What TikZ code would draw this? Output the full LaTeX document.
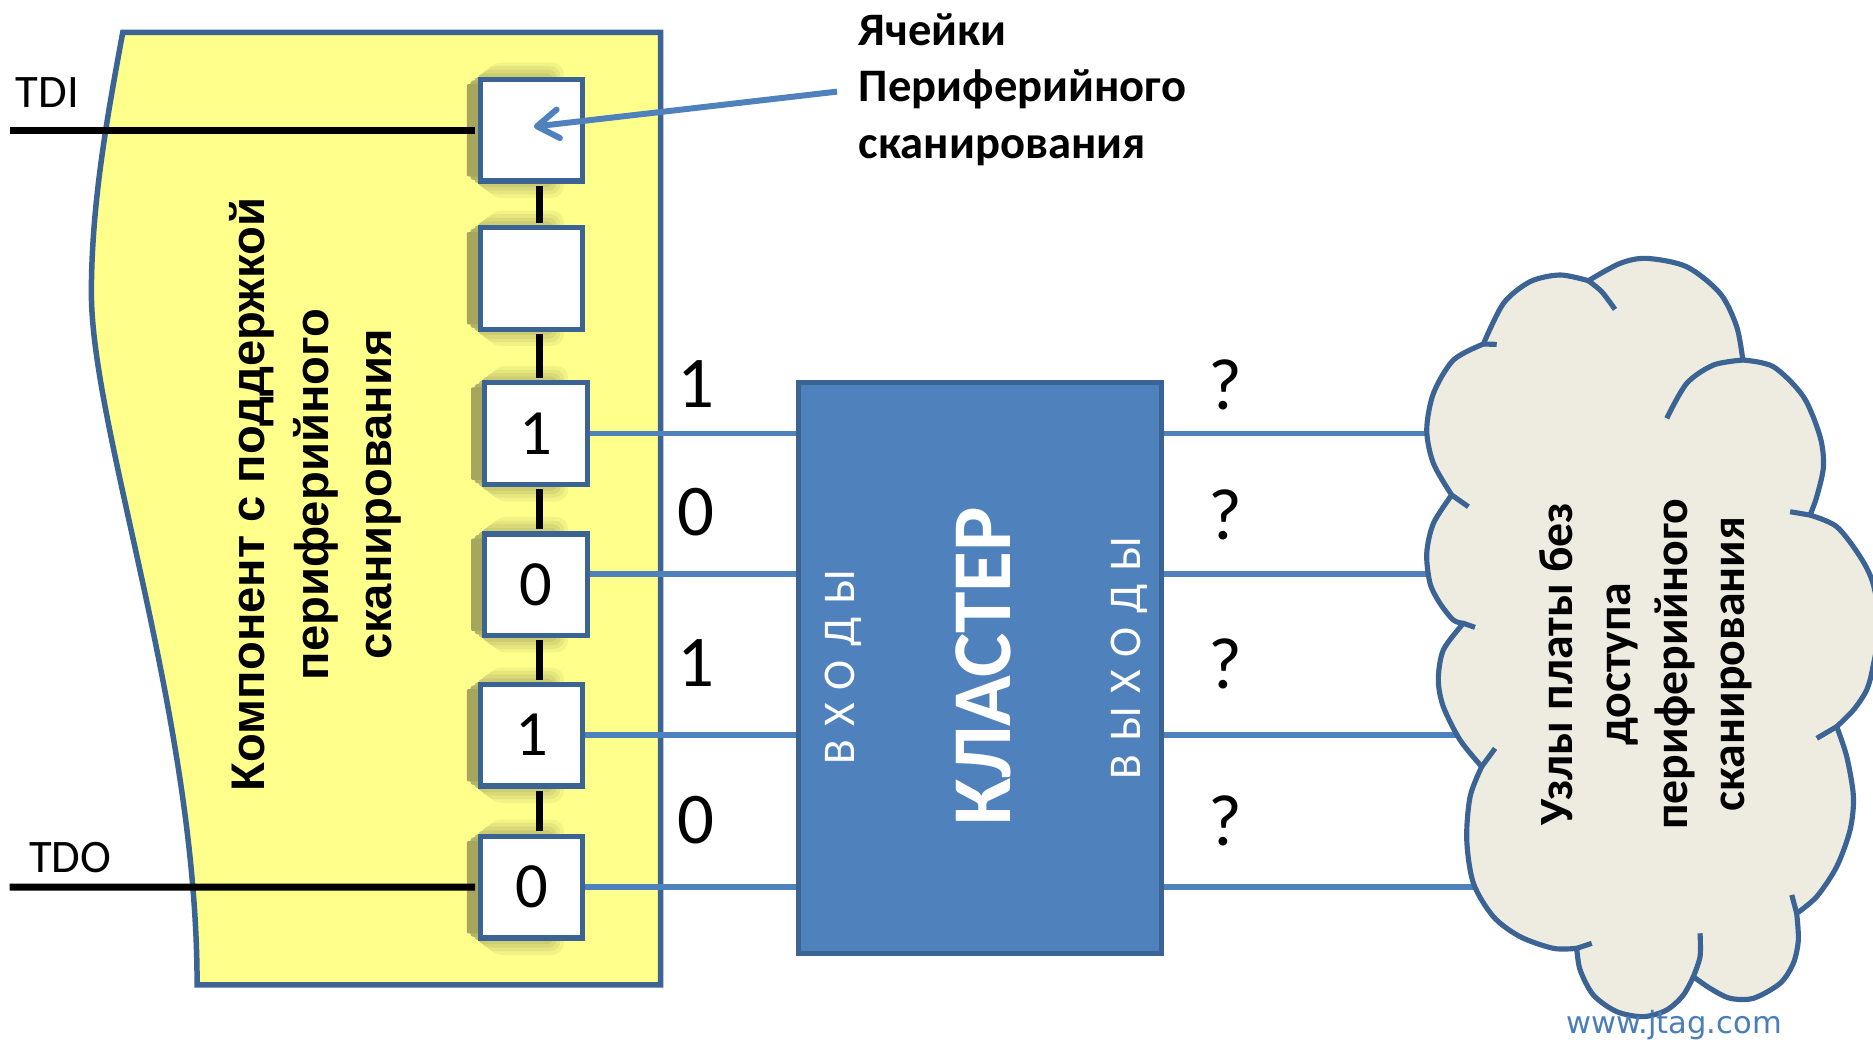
\documentclass[tikz,border=0pt]{standalone}
\usepackage{fontspec}
\setmainfont{Carlito}
\newfontfamily\arialfont{Liberation Sans}
\newfontfamily\webfont{DejaVu Sans}
\usetikzlibrary{arrows.meta}

\definecolor{panelyellow}{HTML}{FFFF8C}
\definecolor{shadowcore}{HTML}{A6A65C}
\definecolor{edgeblue}{HTML}{3B6394}
\definecolor{accentblue}{HTML}{4F81BD}
\definecolor{cloudfill}{HTML}{EEECE1}
\definecolor{weblink}{HTML}{4A7EBB}

\newcommand\fsz[2]{\fontsize{#1pt}{#2pt}\selectfont}
\newcommand\ltrgap{\hspace{11pt}}

\pgfdeclarelayer{back}
\pgfdeclarelayer{mid}
\pgfsetlayers{back,mid,main}

\begin{document}
\begin{tikzpicture}[x=1pt,y=-1pt,
  panel/.style={fill=panelyellow,draw=edgeblue,line width=4.6pt},
  cell/.style={draw=edgeblue,line width=4.3pt,fill=white,
    minimum width=86pt,minimum height=85pt,inner sep=0pt,
    font=\fsz{54}{60}},
  wire/.style={line width=5.8pt,black},
  sig/.style={line width=4.6pt,accentblue},
  bitlabel/.style={font=\fsz{61}{70},inner sep=0pt,anchor=base},
  cluster/.style={fill=accentblue,draw=edgeblue,line width=4.3pt,
    minimum width=304pt,minimum height=478pt,inner sep=0pt},
  cloudshape/.style={fill=cloudfill,draw=edgeblue,line width=4.3pt,line join=round},
  cloudedge/.style={draw=edgeblue,line width=4.3pt},
  pointer/.style={line width=5pt,accentblue,
    -{Straight Barb[length=18pt,width=24pt,round]}},
]
\begin{pgfonlayer}{back}
\useasboundingbox (0,0) rectangle (1568,873);
\fill[white] (0,0) rectangle (1568,873);
% chip body with its curved left edge
\filldraw[panel] (102.8,27) .. controls (90.3,94.5) and (76.5,170) .. (76.5,245)
  .. controls (76.5,360) and (165,600) .. (165,824.5)
  -- (553,824.5) -- (553,27) -- cycle;
\end{pgfonlayer}

\node[rotate=90,align=center,inner sep=0pt,
  font=\arialfont\bfseries\fsz{39.5}{53}] (chipname) at (264,414)
  {Компонент с поддержкой\\периферийного\\сканирования};

% boundary-scan cells
\node[cell] (c1) at (445,109) {};
\node[cell] (c2) at (445,233) {};
\node[cell] (c3) at (448.5,363) {1};
\node[cell] (c4) at (448.5,489.5) {0};
\node[cell] (c5) at (445,615.5) {1};
\node[cell] (c6) at (445,742.7) {0};

% soft shadows cast to the left of the cells: nested rectangles,
% lightest and largest first, darkest and smallest last
\begin{pgfonlayer}{mid}
\foreach \c in {c1,c2,c3,c4,c5,c6}
  \foreach \g [evaluate=\g as \xa using -33-\g,
               evaluate=\g as \xb using -27+\g,
               evaluate=\g as \yb using 3+\g,
               evaluate=\g as \ya using -3-\g,
               evaluate=\g as \rc using (\g+11)/2,
               evaluate=\g as \pct using (9-\g)/18*86+14] in {9,6,...,-9}
    \fill[shadowcore!\pct!panelyellow,rounded corners=\rc pt]
      ([xshift=\xa pt,yshift=\yb pt]\c.north west) rectangle
      ([xshift=\xb pt,yshift=\ya pt]\c.south east);
\end{pgfonlayer}

% scan chain
\coordinate (chain) at (452,0);
\foreach \a/\b in {c1/c2,c2/c3,c3/c4,c4/c5,c5/c6}
  \draw[wire,shorten <=2pt,shorten >=2pt] (\a.south -| chain) -- (\b.north -| chain);

\coordinate (tdi) at (8,109);
\coordinate (tdo) at (8,742.6);
\draw[wire,shorten >=2pt] (tdi) -- (c1.west);
\draw[wire,shorten >=2pt] (tdo) -- (c6.west);
\node[anchor=base west,inner sep=0pt,font=\fsz{39}{45}] (tdilbl) at (13,90.2) {TDI};
\node[anchor=base west,inner sep=0pt,font=\fsz{39}{45}] (tdolbl) at (24.3,730.3) {TDO};

% nets from the cells through the cluster into the board
\coordinate (n1) at (1260,0);
\begin{pgfonlayer}{mid}
\draw[sig] (c3.east) -- (c3.east -| n1);
\draw[sig] ([yshift=9pt]c4.east) -- ([yshift=9pt]c4.east -| n1);
\draw[sig] (c5.east) -- (c5.east -| n1);
\draw[sig] (c6.east) -- (c6.east -| n1);
\end{pgfonlayer}

\node[cluster] (cl) at (820.5,559.1) {};
\node[rotate=90,inner sep=0pt,text=white,font=\bfseries\fsz{70}{80}] (clname) at (823,558) {КЛАСТЕР};
\node[rotate=90,inner sep=0pt,text=white,font=\fsz{38}{44}] (clin) at (706,558.6)
  {В\ltrgap Х\ltrgap О\ltrgap Д\ltrgap Ы};
\node[rotate=90,inner sep=0pt,text=white,font=\fsz{38}{44}] (clout) at (945,551)
  {В\ltrgap Ы\ltrgap Х\ltrgap О\ltrgap Д\ltrgap Ы};

% driven values and unknown responses
\node[bitlabel] (v1) at (583,341) {1};
\node[bitlabel] (v2) at (583,448.5) {0};
\node[bitlabel] (v3) at (583,575) {1};
\node[bitlabel] (v4) at (583,706) {0};
\node[bitlabel] (q1) at (1025.5,343) {?};
\node[bitlabel] (q2) at (1025.5,452) {?};
\node[bitlabel] (q3) at (1025.5,576.5) {?};
\node[bitlabel] (q4) at (1025.5,708) {?};

% board nodes without boundary-scan access
\begin{scope}
\clip (0,0) rectangle (1568,873);
\filldraw[cloudshape]
  plot[smooth] coordinates {(1215.3,414.4) (1200,388) (1194.4,360) (1200,329.3) (1216.7,301.4) (1241.8,288)}
  -- plot[smooth] coordinates {(1241.8,288) (1258.6,254) (1280.9,235.8) (1306,230.2) (1329.7,235)}
  -- plot[smooth] coordinates {(1329.7,235) (1356.2,220.5) (1378.6,216.3) (1412,223.3) (1440,245.6) (1453.9,273.5) (1459,301.4)}
  -- plot[smooth] coordinates {(1459,301.4) (1484.6,307) (1509.7,332) (1523.7,365.6) (1526.5,390.7) (1520.9,415.8) (1515.3,431.2)}
  -- plot[smooth] coordinates {(1515.3,431.2) (1537.6,440.9) (1557.2,466) (1568,488.4) (1573.5,523) (1568,558) (1562.7,577.6) (1551.6,594.4) (1537.6,608.3)}
  -- plot[smooth] coordinates {(1537.6,608.3) (1546,633.4) (1551.6,666.9) (1548.8,694.8) (1537.6,725.5) (1520.9,750.6) (1504.1,764.6)}
  -- plot[smooth] coordinates {(1504.1,764.6) (1505.5,786.9) (1501.3,806.4) (1490.2,823.2) (1467.9,835.7) (1448.3,835.7) (1431.6,827.4) (1417.6,817.6)}
  -- plot[smooth] coordinates {(1417.6,817.6) (1409.2,833) (1395.3,845.5) (1375.8,851.1) (1353.4,846.9) (1333.9,833) (1322.8,812) (1320,793.9)}
  -- plot[smooth] coordinates {(1320,793.9) (1300.4,793.9) (1272.5,784.1) (1250.2,767.4) (1233.5,739.5) (1227.9,703.2) (1230.7,666.9) (1240.4,641.8)}
  -- plot[smooth] coordinates {(1240.4,641.8) (1222.3,619.5) (1208.3,591.6) (1204.1,569.2) (1208.3,544.1) (1225.1,521.8)}
  -- plot[smooth] coordinates {(1225.1,521.8) (1216.7,519.1) (1205.5,505.1) (1197.2,488.4) (1194.4,463.2) (1200,438.1) (1215.3,414.4)}
  -- cycle;
% inner arcs of the puffs
\draw[cloudedge] (1241.8,288) -- (1253,288.3);
\draw[cloudedge] plot[smooth] coordinates {(1329.7,235) (1340.9,244.2) (1352,259)};
\draw[cloudedge] plot[smooth] coordinates {(1459,301.4) (1434.4,305.6) (1412,321) (1395.3,350.2)};
\draw[cloudedge] (1515.3,431.2) -- (1498.6,428.4);
\draw[cloudedge] (1537.6,608.3) -- (1520.9,618.1);
\draw[cloudedge] (1504.1,764.6) -- (1500,749.2);
\draw[cloudedge] plot[smooth] coordinates {(1417.6,817.6) (1423.2,800.9) (1423.2,781.3)};
\draw[cloudedge] (1320,793.9) -- (1332.5,789.7);
\draw[cloudedge] (1240.4,641.8) -- (1251.6,626.5);
\draw[cloudedge] (1225.1,521.8) -- (1234.8,525.2);
\draw[cloudedge] (1215.3,414.4) -- (1229.3,424.2);
\end{scope}

\node[rotate=90,align=center,inner sep=0pt,font=\bfseries\fsz{40}{48}] (boardtxt) at (1378,556)
  {Узлы платы без\\доступа\\периферийного\\сканирования};

% callout for the cells
\node[anchor=north west,align=left,inner sep=0pt,font=\bfseries\fsz{39}{47}] (celllbl) at (718.9,11.5)
  {Ячейки\\Периферийного\\сканирования};
\coordinate (arrtail) at (700.7,76.7);
\draw[pointer] (arrtail) -- ([xshift=2pt,yshift=3pt]c1.center);

\node[anchor=base,inner sep=0pt,text=weblink,font=\webfont\fsz{25.6}{30}] (site) at (1401.5,865) {www.jtag.com};
\end{tikzpicture}
\end{document}
